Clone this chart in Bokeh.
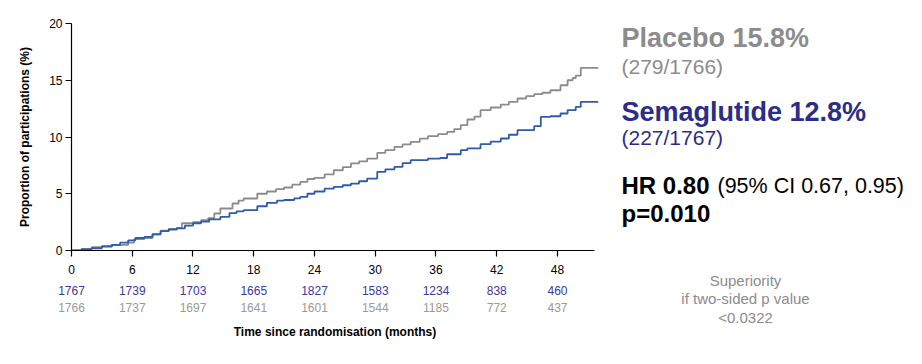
from bokeh.plotting import figure
from bokeh.models import FixedTicker, LinearAxis
from bokeh.layouts import row, column
from bokeh.core.properties import value
from bokeh.embed import file_html
from bokeh.resources import INLINE

# ---- data ----
placebo_months = [0, 1.0, 2.0, 3.0, 3.9, 5.0, 5.6, 6.2, 7.2, 8.0, 8.8, 9.6, 10.4, 10.9, 12.0, 12.8,
                  13.5, 14.1, 14.7, 15.9, 16.5, 17.0, 18.35, 19.3, 20.2, 21.0, 21.8, 22.6, 23.3,
                  24.0, 25.0, 25.9, 26.8, 27.6, 28.4, 29.2, 30.2, 31.0, 31.9, 32.7, 33.5, 34.4,
                  35.2, 36.2, 37.1, 37.8, 38.45, 39.1, 39.8, 40.4, 41.4, 42.4, 43.2, 44.05, 44.9,
                  45.7, 46.5, 47.3, 48.3, 49.0, 49.5, 49.8, 50.3, 52.05]
placebo_pct = [0, 0.15, 0.3, 0.4, 0.47, 0.5, 0.7, 1.0, 1.1, 1.4, 1.75, 1.9, 2.0, 2.4, 2.5, 2.67,
               2.85, 3.26, 3.7, 4.14, 4.4, 4.58, 5.0, 5.2, 5.4, 5.55, 5.8, 6.04, 6.3,
               6.4, 6.7, 7.07, 7.35, 7.67, 7.85, 8.1, 8.6, 8.85, 9.13, 9.35, 9.57, 9.85,
               10.07, 10.25, 10.45, 10.7, 11.04, 11.54, 11.8, 12.36, 12.6, 12.86, 13.1, 13.39, 13.6,
               13.77, 13.9, 14.12, 14.56, 15.0, 15.2, 15.4, 16.09, 16.09]

sema_months = [0, 1.0, 2.0, 3.0, 4.0, 4.8, 5.6, 6.3, 7.2, 8.0, 8.8, 9.6, 10.4, 11.2, 12.0, 12.8,
               13.6, 14.7, 15.6, 16.3, 17.0, 18.35, 19.3, 20.3, 21.0, 22.0, 22.6, 23.3, 24.0,
               25.0, 25.9, 26.8, 27.6, 28.4, 29.2, 30.2, 31.0, 31.9, 32.7, 33.5, 35.2, 36.4,
               37.1, 38.45, 39.1, 40.4, 41.4, 42.4, 43.2, 44.05, 45.7, 46.35, 47.3, 48.3, 49.0,
               49.8, 50.3, 52.05]
sema_pct = [0, 0.1, 0.2, 0.35, 0.5, 0.7, 0.9, 1.1, 1.2, 1.45, 1.7, 1.85, 1.95, 2.2, 2.4, 2.55,
            2.75, 2.96, 3.3, 3.45, 3.55, 3.9, 4.2, 4.4, 4.45, 4.6, 4.72, 5.0, 5.2,
            5.45, 5.6, 5.75, 5.9, 6.1, 6.34, 6.93, 7.15, 7.37, 7.7, 7.96, 8.1, 8.15,
            8.48, 8.84, 8.99, 9.37, 9.6, 9.87, 10.2, 10.6, 10.95, 11.77, 11.83, 12.07, 12.36,
            12.65, 13.1, 13.1]

x_ticks = [0, 6, 12, 18, 24, 30, 36, 42, 48]
y_ticks = [0, 5, 10, 15, 20]
at_risk_sema = [1767, 1739, 1703, 1665, 1827, 1583, 1234, 838, 460]
at_risk_placebo = [1766, 1737, 1697, 1641, 1601, 1544, 1185, 772, 437]

GREY = "#8c8c8c"
BLUE_LINE = "#2f5ca8"
NAVY = "#2b2d87"
NUM_BLUE = "#3a3a9a"
NUM_GREY = "#9a9a9a"
FONT = "Liberation Sans"

LEFT_W = 600
TOTAL_W = 906
TOTAL_H = 348
X_END = 52.05

# ---- main KM plot ----
p1 = figure(width=LEFT_W, height=TOTAL_H, output_backend="svg", toolbar_location=None,
            x_range=(0, X_END), y_range=(0, 20),
            min_border_left=71, min_border_right=2, min_border_top=23, min_border_bottom=98)
p1.outline_line_color = None
p1.grid.visible = False
p1.border_fill_color = "white"

p1.step(placebo_months, placebo_pct, mode="after", line_color=GREY, line_width=1.8)
p1.step(sema_months, sema_pct, mode="after", line_color=BLUE_LINE, line_width=1.8)

for ax in (p1.xaxis[0], p1.yaxis[0]):
    ax.axis_line_color = "black"
    ax.axis_line_width = 1.2
    ax.major_tick_line_color = "black"
    ax.major_tick_line_width = 1.2
    ax.major_tick_out = 6
    ax.major_tick_in = 0
    ax.minor_tick_line_color = None
    ax.major_label_text_font = FONT
    ax.major_label_text_font_size = "12px"
    ax.major_label_text_color = "black"

p1.xaxis.ticker = FixedTicker(ticks=x_ticks)
p1.yaxis.ticker = FixedTicker(ticks=y_ticks)
p1.xaxis.bounds = (0, 51.7)
p1.xaxis.major_label_standoff = 8
p1.yaxis.major_label_standoff = 3

p1.yaxis.axis_label = "Proportion of participations (%)"
p1.yaxis.axis_label_text_font = FONT
p1.yaxis.axis_label_text_font_style = "bold"
p1.yaxis.axis_label_text_font_size = "12px"
p1.yaxis.axis_label_text_color = "black"
p1.yaxis.axis_label_standoff = 14


# numbers at risk as extra label-only axes stacked below the time axis
def risk_axis(counts, color, standoff):
    ax = LinearAxis(ticker=FixedTicker(ticks=x_ticks),
                    major_label_overrides={t: str(c) for t, c in zip(x_ticks, counts)})
    ax.axis_line_color = None
    ax.major_tick_line_color = None
    ax.minor_tick_line_color = None
    ax.major_tick_out = 0
    ax.major_tick_in = 0
    ax.major_label_standoff = standoff
    ax.major_label_text_font = FONT
    ax.major_label_text_font_size = "12px"
    ax.major_label_text_color = color
    return ax


ax_sema = risk_axis(at_risk_sema, NUM_BLUE, 9)
ax_plac = risk_axis(at_risk_placebo, NUM_GREY, 5)
ax_plac.axis_label = "Time since randomisation (months)"
ax_plac.axis_label_text_font = FONT
ax_plac.axis_label_text_font_style = "bold"
ax_plac.axis_label_text_font_size = "12px"
ax_plac.axis_label_text_color = "black"
ax_plac.axis_label_standoff = 10
p1.add_layout(ax_sema, "below")
p1.add_layout(ax_plac, "below")

# ---- right text panel ----
right_w = TOTAL_W - LEFT_W
p3 = figure(width=right_w, height=TOTAL_H, output_backend="svg", toolbar_location=None,
            x_range=(0, right_w), y_range=(TOTAL_H, 0),
            x_axis_location=None, y_axis_location=None,
            min_border_left=0, min_border_right=0, min_border_top=0, min_border_bottom=0)
p3.outline_line_color = None
p3.grid.visible = False


def txt(x, y, s, size, color, bold=False, align="left"):
    p3.text(x=[x - LEFT_W], y=[y], text=[s], text_align=align, text_baseline="middle",
            text_font=value(FONT), text_font_size=size, text_color=color,
            text_font_style="bold" if bold else "normal")


txt(621, 37.5, "Placebo 15.8%", "27px", GREY, bold=True)
txt(621, 65.5, "(279/1766)", "21px", GREY)
txt(621, 111, "Semaglutide 12.8%", "27px", NAVY, bold=True)
txt(621, 137, "(227/1767)", "21px", NAVY)
txt(621, 185, "HR 0.80", "24px", "black", bold=True)
txt(717, 185, "(95% CI 0.67, 0.95)", "21.5px", "black")
txt(621, 213, "p=0.010", "24px", "black", bold=True)

txt(745, 280, "Superiority", "15px", GREY, align="center")
txt(745, 298, "if two-sided p value", "15px", GREY, align="center")
txt(745, 317, "<0.0322", "15px", GREY, align="center")

layout = row(column(p1), p3)
open("out.html", "w").write(file_html(layout, INLINE))
